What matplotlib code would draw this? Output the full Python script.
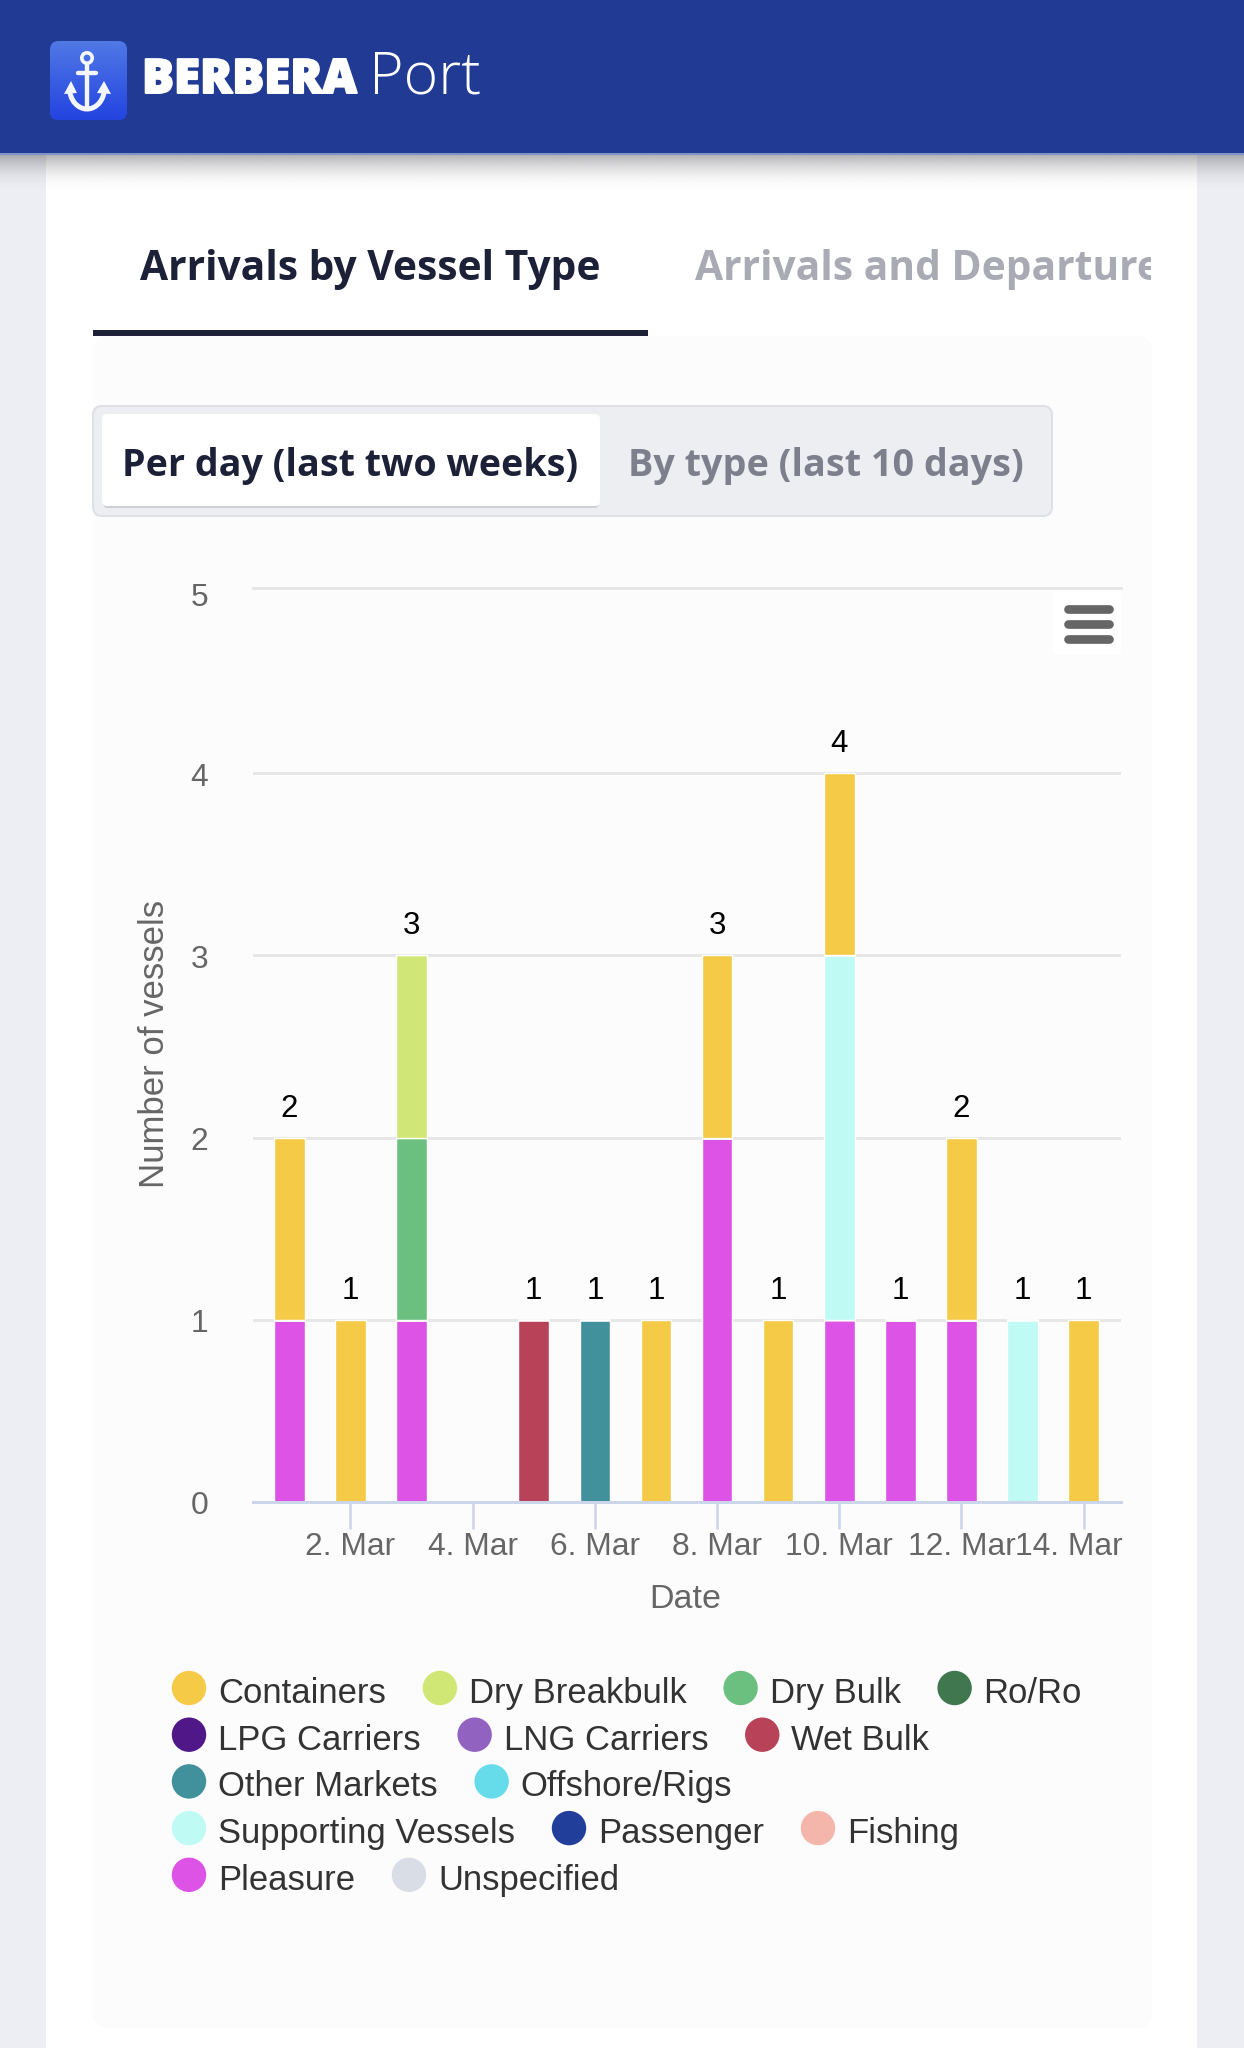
import numpy as np
import matplotlib
matplotlib.use("Agg")
import matplotlib.pyplot as plt
import matplotlib.patheffects as pe
from matplotlib.patches import FancyBboxPatch, Rectangle, Circle, Arc, Polygon
from matplotlib.transforms import ScaledTranslation

# ---------- data ----------
days = [1, 2, 3, 4, 5, 6, 7, 8, 9, 10, 11, 12, 13, 14]
tick_days = [2, 4, 6, 8, 10, 12, 14]
tick_labels = ["2. Mar", "4. Mar", "6. Mar", "8. Mar", "10. Mar", "12. Mar", "14. Mar"]
y_ticks = [0, 1, 2, 3, 4, 5]

containers    = [1, 1, 0, 0, 0, 0, 1, 1, 1, 1, 0, 1, 0, 1]
dry_breakbulk = [0, 0, 1, 0, 0, 0, 0, 0, 0, 0, 0, 0, 0, 0]
dry_bulk      = [0, 0, 1, 0, 0, 0, 0, 0, 0, 0, 0, 0, 0, 0]
ro_ro         = [0] * 14
lpg_carriers  = [0] * 14
lng_carriers  = [0] * 14
wet_bulk      = [0, 0, 0, 0, 1, 0, 0, 0, 0, 0, 0, 0, 0, 0]
other_markets = [0, 0, 0, 0, 0, 1, 0, 0, 0, 0, 0, 0, 0, 0]
offshore_rigs = [0] * 14
supporting    = [0, 0, 0, 0, 0, 0, 0, 0, 0, 2, 0, 0, 1, 0]
passenger     = [0] * 14
fishing       = [0] * 14
pleasure      = [1, 0, 1, 0, 0, 0, 0, 2, 0, 1, 1, 1, 0, 0]
unspecified   = [0] * 14

series_names = ["Containers", "Dry Breakbulk", "Dry Bulk", "Ro/Ro", "LPG Carriers",
                "LNG Carriers", "Wet Bulk", "Other Markets", "Offshore/Rigs",
                "Supporting Vessels", "Passenger", "Fishing", "Pleasure", "Unspecified"]
series_values = [containers, dry_breakbulk, dry_bulk, ro_ro, lpg_carriers, lng_carriers,
                 wet_bulk, other_markets, offshore_rigs, supporting, passenger, fishing,
                 pleasure, unspecified]
series_colors = ["#f5ca47", "#d0e775", "#6bc07f", "#41774f", "#4f1787", "#9162c0",
                 "#b84358", "#40919c", "#66dbea", "#bffaf5", "#213f9a", "#f4b5aa",
                 "#dd53e5", "#d8dde6"]
legend_rows = [4, 3, 2, 3, 2]

# ---------- page ----------
W, H = 1244, 2048
fig = plt.figure(figsize=(W / 100, H / 100), dpi=100, facecolor="#eceef3")
bg = fig.add_axes([0, 0, 1, 1], zorder=1)
bg.set_xlim(0, W)
bg.set_ylim(H, 0)
bg.axis("off")
UI = "Open Sans"
CH = "Liberation Sans"
renderer = fig.canvas.get_renderer()


def px(v):
    return v * 0.72


def rrect(x0, y0, x1, y1, r, fc, ec="none", lw=0, z=1, axis=None):
    p = FancyBboxPatch((x0, y0), x1 - x0, y1 - y0, boxstyle=f"round,pad=0,rounding_size={r}",
                       fc=fc, ec=ec, lw=lw, zorder=z)
    (axis or bg).add_patch(p)
    return p


def fit(t, width):
    w = t.get_window_extent(renderer).width
    t.set_fontsize(t.get_fontsize() * width / w)
    return t


def gradient(x0, x1, y0, y1, rgb, a0, a1, z, power=1.0):
    img = np.zeros((64, 1, 4))
    img[..., :3] = matplotlib.colors.to_rgb(rgb)
    img[..., 3] = (a1 + (a0 - a1) * np.linspace(1, 0, 64) ** power).reshape(-1, 1)
    bg.imshow(img, extent=(x0, x1, y1, y0), aspect="auto", zorder=z, interpolation="bilinear")


# card and inner panel
bg.add_patch(Rectangle((46, 150), 1151, H - 150, fc="white", ec="none", zorder=1))
rrect(93, 336, 1152, 2028, 16, "#fcfcfd", z=2)

# header
gradient(0, W, 0, 154, "#213b94", 1, 1, 5)
bg.add_patch(Rectangle((0, 153), W, 1.6, fc="#7f93c8", ec="none", zorder=5))
gradient(0, W, 154, 192, "#5a5a60", 0.48, 0.0, 4, power=2.0)
icon = rrect(50, 41, 127, 120, 9, "#3558e4", z=6)
im = bg.imshow(np.linspace(0, 1, 64).reshape(-1, 1), extent=(50, 127, 120, 41), aspect="auto",
               cmap=matplotlib.colors.LinearSegmentedColormap.from_list("ic", ["#5078e6", "#2444e0"]),
               zorder=6)
im.set_clip_path(icon)
anc = dict(color="#f4f6fd", lw=px(4.4), zorder=7, solid_capstyle="round")
bg.add_patch(Circle((87, 58), 5.2, fc="none", ec="#f4f6fd", lw=px(3.6), zorder=7))
bg.plot([87, 87], [64, 108], **anc)
bg.plot([78, 96], [73, 73], **anc)
bg.add_patch(Arc((87, 88), 35, 42, theta1=0, theta2=180, ec="#f4f6fd", lw=px(5), zorder=7))
bg.add_patch(Polygon([(71, 81), (64, 94), (77, 93)], fc="#f4f6fd", ec="none", zorder=7))
bg.add_patch(Polygon([(104, 81), (97, 93), (111, 94)], fc="#f4f6fd", ec="none", zorder=7))
brand = fit(bg.text(142, 93, "BERBERA", family=UI, weight="heavy", color="white", fontsize=34,
                    va="baseline", zorder=7), 215)
brand.set_path_effects([pe.withStroke(linewidth=1.4, foreground="white")])
fit(bg.text(369, 93, "Port", family=UI, weight="light", color="white", fontsize=34,
            va="baseline", zorder=7), 112)

# tabs
tab = fit(bg.text(140, 270, "Arrivals by Vessel Type", family=UI, weight="bold", color="#1c2138",
                  fontsize=30, va="center", zorder=6), 461)
t2 = bg.text(695, 270, "Arrivals and Departures", family=UI, weight="bold", color="#a9aab4",
             fontsize=tab.get_fontsize(), va="center", zorder=6)
t2.set_clip_box(matplotlib.transforms.Bbox([[0, 0], [1151, H]]))
t2.set_clip_on(True)
bg.add_patch(Rectangle((93, 330), 555, 6, fc="#1c2138", ec="none", zorder=6))

# segment control
rrect(93, 406, 1052, 516, 9, "#edeef2", ec="#dfe0e5", lw=px(2), z=3)
rrect(103, 416, 599, 508, 5, "#cfd0d6", z=3)
rrect(102, 414, 600, 506, 5, "white", z=4)
fit(bg.text(122, 466, "Per day (last two weeks)", family=UI, weight="bold", color="#1c2138",
            fontsize=28, va="center", zorder=6), 455)
fit(bg.text(628, 466, "By type (last 10 days)", family=UI, weight="bold", color="#7d7f8c",
            fontsize=28, va="center", zorder=6), 395)

# ---------- chart ----------
L, R, T, B = 252.6, 1121.0, 591.0, 1502.0
ax = fig.add_axes([L / W, 1 - B / H, (R - L) / W, (B - T) / H], facecolor="none", zorder=3)
ax.set_xlim(0.40, 14.61)
ax.set_ylim(0, 5)
bottoms = np.zeros(len(days))
for values, name, color in reversed(list(zip(series_values, series_names, series_colors))):
    v = np.array(values, float)
    ax.bar(days, v, width=0.5, bottom=bottoms, color=color, edgecolor="white",
           linewidth=px(1.4), label=name, zorder=3)
    bottoms += v
for d, total in zip(days, bottoms):
    if total > 0:
        ax.annotate(f"{int(total)}", (d, total), xytext=(0, px(29)), textcoords="offset points",
                    ha="center", va="center", family=CH, fontsize=22.5, color="black", zorder=5)

ax.grid(axis="y", color="#e7e7e7", lw=px(3), zorder=1)
ax.set_axisbelow(True)
for s in ["left", "right", "top"]:
    ax.spines[s].set_visible(False)
ax.spines["bottom"].set_color("#ccd6eb")
ax.spines["bottom"].set_linewidth(px(3))
ax.spines["bottom"].set_zorder(4)
ax.set_xticks(tick_days, tick_labels, family=CH, fontsize=22.9, color="#666666")
ax.set_yticks(y_ticks, [str(v) for v in y_ticks], family=CH, fontsize=22.9, color="#666666")
ax.tick_params(axis="x", length=px(27), width=px(2.6), color="#ccd6eb", pad=px(3))
ax.tick_params(axis="y", length=0, pad=px(44.5))
for lab in ax.get_yticklabels():
    lab.set_transform(lab.get_transform() + ScaledTranslation(0, -1 / 100, fig.dpi_scale_trans))
last = ax.get_xticklabels()[-1]
last.set_transform(last.get_transform() + ScaledTranslation(-15 / 100, 0, fig.dpi_scale_trans))
toplab = ax.get_yticklabels()[-1]
toplab.set_transform(toplab.get_transform() + ScaledTranslation(0, -3 / 100, fig.dpi_scale_trans))
topgrid = ax.get_ygridlines()[-1]
topgrid.set_clip_on(False)
topgrid.set_transform(topgrid.get_transform() + ScaledTranslation(0, 2.5 / 100, fig.dpi_scale_trans))
ax.set_xlabel("Date", family=CH, fontsize=24.5, color="#666666", va="center")
ax.xaxis.set_label_coords(0.4985, -(1600 - B) / (B - T))
ax.set_ylabel("Number of vessels", family=CH, fontsize=25, color="#666666", va="center")
ax.yaxis.set_label_coords((154.2 - L) / (R - L), 0.5 + 2.5 / (B - T))

# overlay for menu button and legend, above the chart
ov = fig.add_axes([0, 0, 1, 1], facecolor="none", zorder=5)
ov.set_xlim(0, W)
ov.set_ylim(H, 0)
ov.axis("off")
rrect(1053, 592, 1121, 655, 4, "#ffffff", z=6, axis=ov)
for yy in (609, 624, 638.5):
    ov.plot([1068, 1109], [yy, yy], color="#666666", lw=px(8.7), solid_capstyle="round", zorder=7)

# ---------- legend (flow layout) ----------
idx = 0
for row, count in enumerate(legend_rows):
    y = 1688 + row * 46.7
    x = 172.0
    for _ in range(count):
        ov.add_patch(Circle((x + 17, y), 17.2, fc=series_colors[idx], ec="none"))
        t = ov.text(x + 46, y + 15, series_names[idx], family=CH, fontsize=24.9, color="#333333",
                    va="baseline")
        x = t.get_window_extent(renderer).x1 + 37
        idx += 1

fig.savefig("out.png", dpi=100, facecolor=fig.get_facecolor())
